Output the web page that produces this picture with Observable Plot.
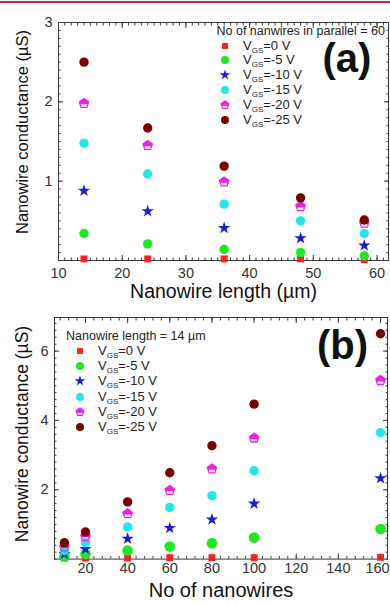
<!DOCTYPE html>
<html><head><meta charset="utf-8">
<script src="https://cdn.jsdelivr.net/npm/d3@7"></script>
<script src="https://cdn.jsdelivr.net/npm/@observablehq/plot@0.6"></script>
<style>
body{margin:0;overflow:hidden;background:#fff;font-family:"Liberation Sans",Arial,sans-serif}
#wrap{position:relative;width:390px;height:604px;overflow:hidden;background:#fff}
.abs{position:absolute}
.hdr{position:absolute;font-size:12.5px;color:#222;white-space:nowrap;line-height:14px}
.row{position:absolute;font-size:13px;color:#222;white-space:nowrap;line-height:14px;height:14px}
.row sub{font-size:8px;vertical-align:-3px;line-height:0}
.tag{position:absolute;width:100px;text-align:center;font-weight:bold;font-size:40px;line-height:40px;color:#111}
.ytitle{position:absolute;width:300px;height:20px;line-height:20px;text-align:center;color:#111;white-space:nowrap;transform:rotate(-90deg)}
</style></head><body><div id="wrap"></div><script>
// ---------- data ----------
const vgsLabels = ["0 V", "-5 V", "-10 V", "-15 V", "-20 V", "-25 V"];

// panel (a): conductance (µS) vs nanowire length (µm), 60 nanowires in parallel
const lengths = [14, 24, 36, 48, 58];
const aVgs0   = [0.02, 0.02, 0.02, 0.02, 0.01];
const aVgs5   = [0.34, 0.21, 0.14, 0.10, 0.06];
const aVgs10  = [0.88, 0.62, 0.41, 0.28, 0.19];
const aVgs15  = [1.48, 1.09, 0.71, 0.50, 0.34];
const aVgs20  = [1.98, 1.45, 0.99, 0.68, 0.47];
const aVgs25  = [2.50, 1.67, 1.19, 0.79, 0.51];

// panel (b): conductance (µS) vs number of nanowires, length 14 µm
const counts  = [10, 20, 40, 60, 80, 100, 160];
const bVgs0   = [0.03, 0.03, 0.03, 0.04, 0.04, 0.04, 0.05];
const bVgs5   = [0.08, 0.15, 0.25, 0.36, 0.46, 0.62, 0.87];
const bVgs10  = [0.15, 0.29, 0.59, 0.90, 1.14, 1.60, 2.33];
const bVgs15  = [0.25, 0.47, 0.93, 1.49, 1.83, 2.55, 3.65];
const bVgs20  = [0.35, 0.65, 1.31, 1.98, 2.60, 3.49, 5.15];
const bVgs25  = [0.47, 0.78, 1.65, 2.49, 3.27, 4.47, 6.50];

// tick labels
const aXTicks = [10, 20, 30, 40, 50, 60];
const aYTicks = [1, 2, 3];
const bXTicks = [20, 40, 60, 80, 100, 120, 140, 160];
const bYTicks = [2, 4, 6];

const aHeader = "No of nanwires in parallel = 60";
const bHeader = "Nanowire length = 14 \u00b5m";
const aXTitle = "Nanowire length (\u00b5m)";
const bXTitle = "No of nanowires";
const yTitle  = "Nanowire conductance (\u00b5S)";

// ---------- styles ----------
const pentagon = {
  draw(ctx, size) {
    const r = Math.sqrt(size / Math.PI) * 1.22;
    for (let k = 0; k < 5; k++) {
      const a = (-90 + 72 * k) * Math.PI / 180;
      const px = r * Math.cos(a), py = r * Math.sin(a);
      if (k === 0) ctx.moveTo(px, py); else ctx.lineTo(px, py);
    }
    ctx.closePath();
    const w = 0.5 * r, y1 = 0.14 * r, y2 = 0.56 * r;
    ctx.moveTo(-w, y1); ctx.lineTo(-w, y2); ctx.lineTo(w, y2); ctx.lineTo(w, y1); ctx.closePath();
  }
};
const styles = [
  {symbol: "square", d3sym: d3.symbolSquare, fill: "#ff1f1f", r: 3.9},
  {symbol: "circle", d3sym: d3.symbolCircle, fill: "#1ee81e", r: 4.7},
  {symbol: "star",   d3sym: d3.symbolStar,   fill: "#1c1cd8", r: 3.9},
  {symbol: "circle", d3sym: d3.symbolCircle, fill: "#22e8ee", r: 4.7},
  {symbol: pentagon, d3sym: pentagon,        fill: "#ee1ee8", r: 4.7},
  {symbol: "circle", d3sym: d3.symbolCircle, fill: "#780000", r: 4.7}
];

const aSeries = [aVgs0, aVgs5, aVgs10, aVgs15, aVgs20, aVgs25];
const bSeries = [bVgs0, bVgs5, bVgs10, bVgs15, bVgs20, bVgs25];

function rows(xs, series) {
  return series.map((vals, i) => xs.map((x, j) => ({x, y: vals[j], s: i})));
}
function range(a, b, s) { const out = []; for (let v = a; v <= b + 1e-9; v += s) out.push(+v.toFixed(4)); return out; }

const axisColor = "#3a3a3a";
function frameAxes({xTicks, yTicks, xMinor, yMinor, xPad, lastShift}) {
  const blank = () => "";
  const fmt = d => String(d);
  const mainX = lastShift ? xTicks.slice(0, -1) : xTicks;
  const marks = [
    Plot.axisX({ticks: mainX, tickSize: 0, tickPadding: xPad, fontSize: 14.5, fill: "#333", tickFormat: fmt, label: null}),
    Plot.axisY({ticks: yTicks, tickSize: 0, tickPadding: 6, fontSize: 14.5, fill: "#333", tickFormat: fmt, label: null}),
    Plot.axisX({anchor: "bottom", ticks: xTicks, tickSize: -5, tickFormat: blank, stroke: axisColor, label: null}),
    Plot.axisX({anchor: "bottom", ticks: xMinor, tickSize: -2.5, tickFormat: blank, stroke: axisColor, label: null}),
    Plot.axisX({anchor: "top", ticks: xTicks, tickSize: -5, tickFormat: blank, stroke: axisColor, label: null}),
    Plot.axisX({anchor: "top", ticks: xMinor, tickSize: -2.5, tickFormat: blank, stroke: axisColor, label: null}),
    Plot.axisY({anchor: "left", ticks: yTicks, tickSize: -5, tickFormat: blank, stroke: axisColor, label: null}),
    Plot.axisY({anchor: "left", ticks: yMinor, tickSize: -2.5, tickFormat: blank, stroke: axisColor, label: null}),
    Plot.axisY({anchor: "right", ticks: yTicks, tickSize: -5, tickFormat: blank, stroke: axisColor, label: null}),
    Plot.axisY({anchor: "right", ticks: yMinor, tickSize: -2.5, tickFormat: blank, stroke: axisColor, label: null}),
    Plot.frame({stroke: axisColor, strokeWidth: 1})
  ];
  if (lastShift) marks.push(Plot.axisX({ticks: xTicks.slice(-1), tickSize: 0, tickPadding: xPad, fontSize: 14.5, fill: "#333", tickFormat: fmt, label: null, dx: lastShift}));
  return marks;
}
function dotMarks(data, bigGreen) {
  return data.map((d, i) => {
    const st = styles[i];
    let r = st.r;
    if (bigGreen && i === 1) r = 5.3;
    return Plot.dot(d, {x: "x", y: "y", symbol: () => st.symbol, fill: st.fill, stroke: "none", r});
  });
}

const plotStyle = {fontFamily: "'Liberation Sans', Arial, sans-serif", fontSize: "14px", background: "transparent", color: "#222", overflow: "visible"};

const plotA = Plot.plot({
  width: 390, height: 300,
  marginTop: 22, marginBottom: 40, marginLeft: 58, marginRight: 2,
  x: {domain: [10, 61.8], label: null},
  y: {domain: [0, 3], label: null},
  style: plotStyle,
  marks: [
    ...frameAxes({xTicks: aXTicks, yTicks: aYTicks, xMinor: range(10, 61, 1), yMinor: range(0, 3, 0.1), xPad: 7}),
    ...dotMarks(rows(lengths, aSeries), false),
    Plot.text([aXTitle], {text: d => d, frameAnchor: "bottom", dy: 37, fontSize: 19.5, fill: "#111"})
  ]
});

const plotB = Plot.plot({
  width: 390, height: 304,
  marginTop: 17, marginBottom: 45.4, marginLeft: 54, marginRight: 3,
  x: {domain: [5.3, 163.3], label: null},
  y: {domain: [0, 6.97], label: null},
  style: plotStyle,
  marks: [
    ...frameAxes({xTicks: bXTicks, yTicks: bYTicks, xMinor: range(8, 163, 4), yMinor: range(0, 6.9, 0.2), xPad: 4, lastShift: -3}),
    ...dotMarks(rows(counts, bSeries), true),
    Plot.text([bXTitle], {text: d => d, frameAnchor: "bottom", dy: 37.5, fontSize: 20, fill: "#111"})
  ]
});

const wrap = document.getElementById("wrap");
const topLine = document.createElement("div");
topLine.className = "abs";
Object.assign(topLine.style, {left: "0", top: "1px", width: "390px", height: "1.5px", background: "#c22a4c"});
wrap.appendChild(topLine);

const boxA = document.createElement("div"); boxA.className = "abs"; boxA.style.left = "0"; boxA.style.top = "0";
boxA.appendChild(plotA); wrap.appendChild(boxA);
const boxB = document.createElement("div"); boxB.className = "abs"; boxB.style.left = "0"; boxB.style.top = "300px";
boxB.appendChild(plotB); wrap.appendChild(boxB);

function ytitleDiv(txt, cx, cy, fs) {
  const d = document.createElement("div");
  d.className = "ytitle"; d.textContent = txt;
  d.style.fontSize = fs + "px";
  d.style.left = (cx - 150) + "px"; d.style.top = (cy - 10) + "px";
  wrap.appendChild(d);
}
ytitleDiv(yTitle, 22, 132, 16.5);
ytitleDiv(yTitle, 22, 434, 17.5);

function legend({header, hx, hy, symX, textX, rowY, step, align}) {
  const h = document.createElement("div");
  h.className = "hdr"; h.textContent = header;
  if (align === "right") { h.style.right = hx + "px"; } else { h.style.left = hx + "px"; }
  h.style.top = (hy - 7) + "px";
  wrap.appendChild(h);
  vgsLabels.forEach((lab, i) => {
    const cy = rowY + i * step;
    const st = styles[i];
    const svg = d3.create("svg").attr("width", 14).attr("height", 14)
      .style("position", "absolute").style("left", (symX - 7) + "px").style("top", (cy - 7) + "px");
    const rr = st.r * 0.85;
    svg.append("path").attr("transform", "translate(7,7)")
      .attr("d", d3.symbol(st.d3sym, rr * rr * Math.PI)()).attr("fill", st.fill);
    wrap.appendChild(svg.node());
    const t = document.createElement("div");
    t.className = "row";
    t.innerHTML = "V<sub>GS</sub>=" + lab;
    t.style.left = textX + "px"; t.style.top = (cy - 7) + "px";
    wrap.appendChild(t);
  });
}
legend({header: aHeader, hx: 5, hy: 31, symX: 225, textX: 243, rowY: 45.5, step: 14.9, align: "right"});
legend({header: bHeader, hx: 66, hy: 336, symX: 80, textX: 98, rowY: 351, step: 15.2, align: "left"});

function tag(txt, cx, top) {
  const d = document.createElement("div");
  d.className = "tag"; d.textContent = txt;
  d.style.left = (cx - 50) + "px"; d.style.top = top + "px";
  wrap.appendChild(d);
}
tag("(a)", 347, 38);
tag("(b)", 342.5, 325);
</script></body></html>
